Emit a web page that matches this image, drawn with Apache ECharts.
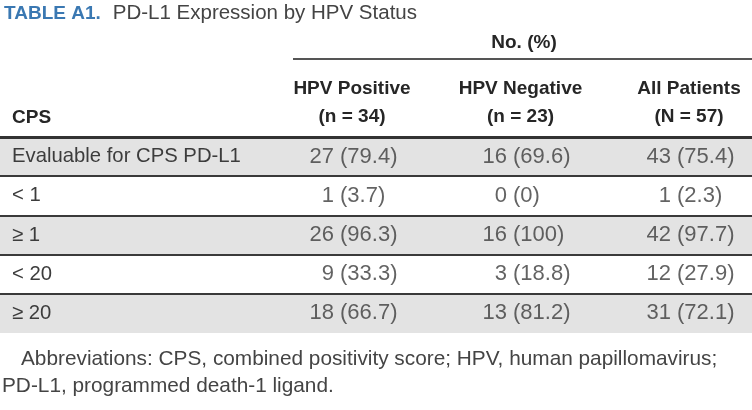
<!DOCTYPE html>
<html><head><meta charset="utf-8">
<script src="https://cdn.jsdelivr.net/npm/echarts@6/dist/echarts.min.js"></script>
<style>html,body{margin:0;padding:0;background:#fff}#c{width:752px;height:410px}</style>
</head><body><div id="c"></div>
<script>
const rowLabels = ['Evaluable for CPS PD-L1', '< 1', '≥ 1', '< 20', '≥ 20'];
const columnNames = ['HPV Positive', 'HPV Negative', 'All Patients'];
const columnCounts = ['(n = 34)', '(n = 23)', '(N = 57)'];
const hpvPositiveN = [27, 1, 26, 9, 18];
const hpvPositivePct = [79.4, 3.7, 96.3, 33.3, 66.7];
const hpvNegativeN = [16, 0, 16, 3, 13];
const hpvNegativePct = [69.6, 0, 100, 18.8, 81.2];
const allPatientsN = [43, 1, 42, 12, 31];
const allPatientsPct = [75.4, 2.3, 97.7, 27.9, 72.1];

const BOLD = "'Liberation Sans', Arial, sans-serif";
const REG = "'Liberation Sans', Arial, sans-serif";
const TXT = '#3c3c3c';
const HEAD = '#262626';

const colN = [hpvPositiveN, hpvNegativeN, allPatientsN];
const colPct = [hpvPositivePct, hpvNegativePct, allPatientsPct];
const colShift = [0, 4.5, 0];
function fmtPct(p) { return (p === 0 || p === 100) ? String(p) : p.toFixed(1); }

const series = [];
columnNames.forEach((name, i) => {
  const data = rowLabels.map((r, j) => [name, r, colN[i][j], colPct[i][j]]);
  const base = { type: 'scatter', xAxisIndex: 1, yAxisIndex: 1, silent: true,
    symbolSize: 1, itemStyle: { color: 'rgba(0,0,0,0)' }, data: data };
  series.push(Object.assign({}, base, {
    label: { show: true, position: 'left', distance: 2.5, offset: [colShift[i], 0],
      fontFamily: REG, fontSize: 22, color: TXT,
      formatter: p => String(p.value[2]) }
  }));
  series.push(Object.assign({}, base, {
    label: { show: true, position: 'right', distance: 2.5, offset: [colShift[i], 0],
      fontFamily: REG, fontSize: 22, color: TXT,
      formatter: p => '(' + fmtPct(p.value[3]) + ')' }
  }));
});

const chart = echarts.init(document.getElementById('c'), null, { renderer: 'canvas' });
chart.setOption({
  animation: false,
  backgroundColor: '#fff',
  title: [
    { left: 4, top: 3, padding: 0, text: '{a|TABLE A1.}{b|PD-L1 Expression by HPV Status}',
      textStyle: { rich: {
        a: { fontFamily: BOLD, fontWeight: 'bold', fontSize: 19, color: '#3a78b2', padding: [0, 12, 0, 0] },
        b: { fontFamily: REG, fontWeight: 'normal', fontSize: 20.5, color: '#444' } } } },
    { left: 524, top: 33, padding: 0, textAlign: 'center', text: 'No. (%)',
      textStyle: { fontFamily: BOLD, fontWeight: 'bold', fontSize: 19, color: HEAD } },
    { left: 12, top: 108, padding: 0, text: 'CPS',
      textStyle: { fontFamily: BOLD, fontWeight: 'bold', fontSize: 19, color: HEAD } },
    { left: 21, top: 349, padding: 0, text: 'Abbreviations: CPS, combined positivity score; HPV, human papillomavirus;',
      textStyle: { fontFamily: REG, fontWeight: 'normal', fontSize: 20.8, color: '#444' } },
    { left: 2, top: 376, padding: 0, text: 'PD-L1, programmed death-1 ligand.',
      textStyle: { fontFamily: REG, fontWeight: 'normal', fontSize: 20.8, color: '#444' } }
  ],
  graphic: [
    { type: 'line', shape: { x1: 293, y1: 59, x2: 752, y2: 59 }, style: { stroke: '#555', lineWidth: 2 } }
  ],
  grid: [
    { left: 0, right: 0, top: 137, height: 196 },
    { left: 337, right: 78, top: 137, height: 196 }
  ],
  xAxis: [
    { gridIndex: 0, type: 'value', position: 'top', min: 0, max: 1,
      axisLine: { show: true, onZero: false, lineStyle: { color: '#333', width: 3 } },
      axisTick: { show: false }, axisLabel: { show: false }, splitLine: { show: false } },
    { gridIndex: 1, type: 'category', position: 'top', boundaryGap: false,
      data: columnNames,
      axisLine: { show: false }, axisTick: { show: false }, splitLine: { show: false },
      axisLabel: { margin: 6, interval: 0, lineHeight: 28, padding: [0, 0, 0, 30],
        fontFamily: BOLD, fontWeight: 'bold', fontSize: 19, color: HEAD,
        formatter: (v, i) => v + '\n' + columnCounts[i] } }
  ],
  yAxis: [
    { gridIndex: 0, type: 'category', inverse: true, data: rowLabels,
      axisLine: { show: false }, axisTick: { show: false },
      axisLabel: { inside: true, margin: 12, fontFamily: REG, fontSize: 20.3, color: TXT },
      splitArea: { show: true, areaStyle: { color: ['#e3e3e3', '#ffffff'] } },
      splitLine: { show: true, showMinLine: false, showMaxLine: false,
        lineStyle: { color: '#3a3a3a', width: 2 } } },
    { gridIndex: 1, type: 'category', inverse: true, data: rowLabels, show: false }
  ],
  series: series
});
</script></body></html>
